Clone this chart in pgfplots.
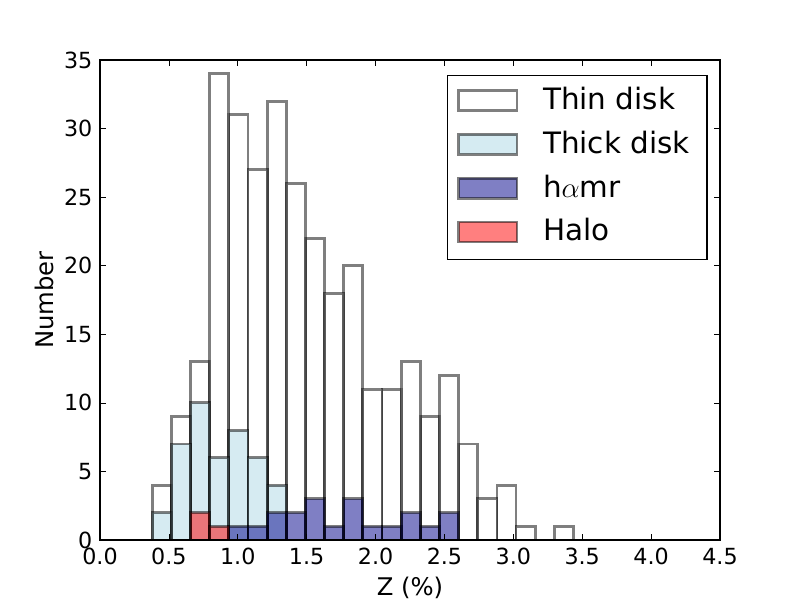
\documentclass[border=0pt]{standalone}
\usepackage{pgfplots}
\pgfplotsset{compat=1.18}
\usepackage{pgfplotstable}
\usepackage{fontspec}
\setmainfont{DejaVu Sans}
\definecolor{lightblue}{RGB}{173,216,230}
\definecolor{darkblue}{RGB}{0,0,139}
% even-numbered bins
\pgfplotstableread{
x thin thick hamr halo
0.4485 4 2 0 0
0.7265 13 10 0 2
1.0045 31 8 1 0
1.2825 32 4 2 0
1.5605 22 0 3 0
1.8385 20 0 3 0
2.1165 11 0 1 0
2.3945 9 0 1 0
2.6725 7 0 0 0
2.9505 4 0 0 0
3.2285 0 0 0 0
3.5065 0 0 0 0
3.7845 0 0 0 0
4.0625 0 0 0 0
4.3405 0 0 0 0
}\histA
% odd-numbered bins
\pgfplotstableread{
x thin thick hamr halo
0.5875 9 7 0 0
0.8655 34 6 0 1
1.1435 27 6 1 0
1.4215 26 0 2 0
1.6995 18 0 1 0
1.9775 11 0 1 0
2.2555 13 0 2 0
2.5335 12 0 2 0
2.8115 3 0 0 0
3.0895 1 0 0 0
3.3675 1 0 0 0
3.6455 0 0 0 0
3.9235 0 0 0 0
4.2015 0 0 0 0
}\histB
\pgfplotsset{hist/.style={ybar, bar width=0.139, bar shift=0pt, draw=black, draw opacity=0.5, fill opacity=0.5, line width=2pt,
  legend image code/.code={\draw[##1] (0pt,-0.7pt) rectangle (42pt,13.7pt);}}}
\begin{document}
\begin{tikzpicture}
\path[use as bounding box] (-72pt,-43.2pt) rectangle (504pt,388.8pt);
\begin{axis}[
  at={(0,0)}, anchor=south west,
  scale only axis, width=446.4pt, height=345.6pt,
  xmin=0, xmax=4.5, ymin=0, ymax=35,
  xtick={0,0.5,...,4.5}, ytick={0,5,...,35},
  minor tick num=0,
  tick align=inside, major tick length=4pt,
  every tick/.style={black, line width=0.5pt},
  axis line style={line width=1pt},
  axis on top,
  /pgf/number format/assume math mode=true,
  tick label style={font=\fontsize{16}{19}\selectfont},
  xticklabel style={anchor=base, inner sep=0pt, yshift=-17.5pt, /pgf/number format/.cd, fixed, fixed zerofill, precision=1},
  yticklabel style={anchor=east, inner sep=0pt, xshift=-5.3pt},
  every axis x label/.style={at={(axis description cs:0.5,0)}, anchor=base, yshift=-39.6pt, font=\fontsize{17.5}{21}\selectfont},
  every axis y label/.style={at={(axis description cs:0,0.5)}, xshift=-33.6pt, rotate=90, anchor=base, font=\fontsize{17.5}{21}\selectfont},
  xlabel={Z (\%)}, ylabel={Number},
  legend style={at={(axis description cs:0,1)}, anchor=north west, xshift=249.8pt, yshift=-10.8pt,
    draw=black, line width=1pt, font=\fontsize{21.2}{25}\selectfont,
    inner xsep=7pt, inner ysep=8.5pt, row sep=10.5pt, column sep=17.7pt,
    nodes={inner sep=0pt, anchor=base west, text height=16pt, text depth=5pt}},
  legend cell align=left,
]
\addplot[hist, fill=white] table[x=x, y=thin] {\histA};
\addlegendentry{Thin disk}
\addplot[hist, fill=white, forget plot] table[x=x, y=thin] {\histB};
\addplot[hist, fill=lightblue] table[x=x, y=thick] {\histA};
\addlegendentry{Thick disk\kern5.5pt\mbox{}}
\addplot[hist, fill=lightblue, forget plot] table[x=x, y=thick] {\histB};
\addplot[hist, fill=darkblue] table[x=x, y=hamr] {\histA};
\addlegendentry{h$\alpha$mr}
\addplot[hist, fill=darkblue, forget plot] table[x=x, y=hamr] {\histB};
\addplot[hist, fill=red] table[x=x, y=halo] {\histA};
\addlegendentry{Halo}
\addplot[hist, fill=red, forget plot] table[x=x, y=halo] {\histB};
\end{axis}
\end{tikzpicture}
\end{document}
